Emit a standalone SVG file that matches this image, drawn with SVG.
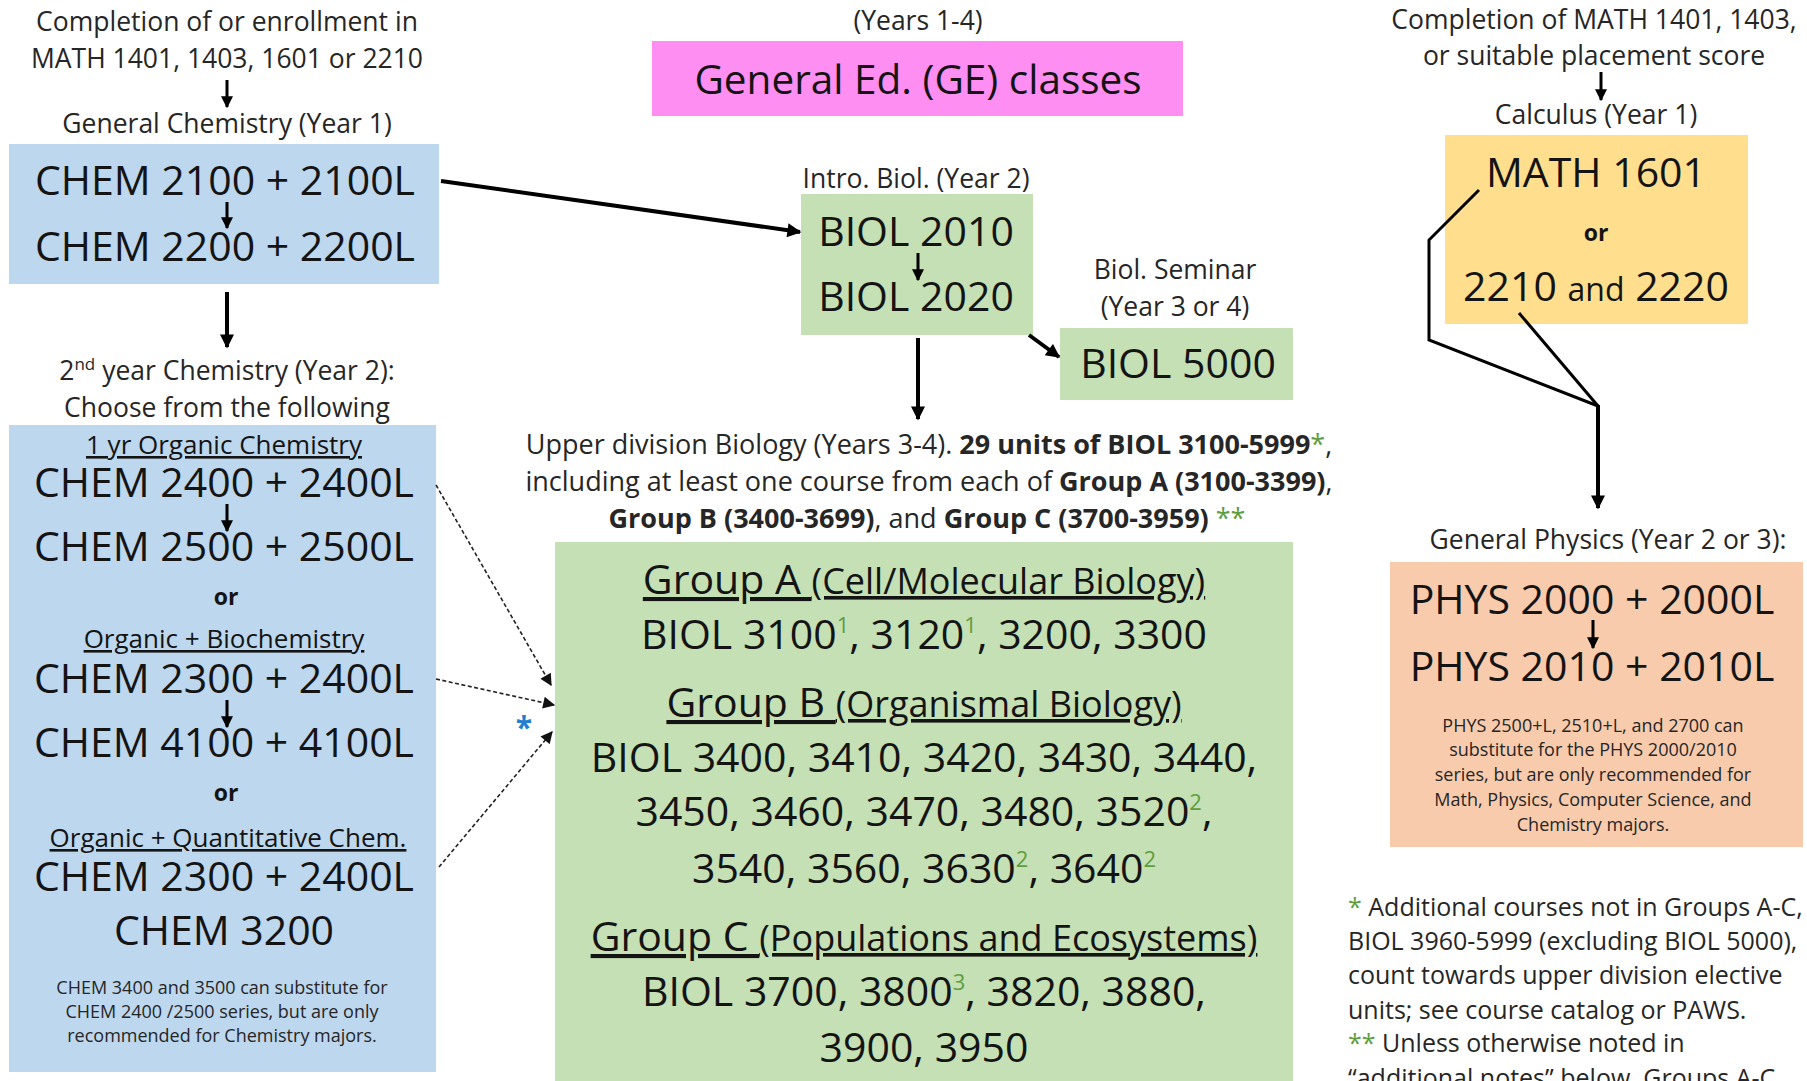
<svg xmlns="http://www.w3.org/2000/svg" width="1807" height="1081" viewBox="0 0 1807 1081">
<defs>
<style>
text{font-family:"Open Sans","Liberation Sans",sans-serif;fill:#141414}
.c{text-anchor:middle}
.big{font-size:41px}
.hd{font-size:26.5px;fill:#262626}
.up{font-size:27px;fill:#262626}
.sub{font-size:26px;text-decoration:underline}
.or{font-size:23px;font-weight:bold}
.note{font-size:18px;fill:#262626}
.fn{font-size:25px;fill:#262626}
.b{font-weight:bold}
.g{fill:#5e9e40}
.conn{stroke:#000;stroke-width:4;fill:none}
.thin{stroke:#000;stroke-width:3;fill:none}
.dash{stroke:#222;stroke-width:1.6;stroke-dasharray:4 2.5;fill:none}
</style>
<marker id="ah" viewBox="0 0 10 10" refX="9" refY="5" markerWidth="16" markerHeight="14" markerUnits="userSpaceOnUse" orient="auto"><path d="M0,0L10,5L0,10z" fill="#000"/></marker>
<marker id="as" viewBox="0 0 10 10" refX="9" refY="5" markerWidth="12" markerHeight="12" markerUnits="userSpaceOnUse" orient="auto"><path d="M0,0L10,5L0,10z" fill="#000"/></marker>
<marker id="ad" viewBox="0 0 10 10" refX="9" refY="5" markerWidth="14" markerHeight="12" markerUnits="userSpaceOnUse" orient="auto"><path d="M0,0L10,5L0,10z" fill="#111"/></marker>
</defs>
<rect width="1807" height="1081" fill="#fff"/>

<g id="chem-prereq">
<text class="hd c" x="227" y="31">Completion of or enrollment in</text>
<text class="hd c" x="227" y="68">MATH 1401, 1403, 1601 or 2210</text>
</g>

<g id="gen-chem">
<text class="hd c" x="227" y="133">General Chemistry (Year 1)</text>
<rect x="9" y="144" width="430" height="140" fill="#bdd7ee"/>
<text class="big c" x="225" y="195">CHEM 2100 + 2100L</text>
<text class="big c" x="225" y="261">CHEM 2200 + 2200L</text>
<line class="thin" x1="227" y1="202" x2="227" y2="228" marker-end="url(#as)"/>
</g>

<g id="chem-year2">
<text class="hd c" x="227" y="380">2<tspan font-size="17" dy="-10">nd</tspan><tspan dy="10"> year Chemistry (Year 2):</tspan></text>
<text class="hd c" x="227" y="417">Choose from the following</text>
<rect x="9" y="425" width="427" height="647" fill="#bdd7ee"/>
<text class="sub c" x="224" y="454">1 yr Organic Chemistry</text>
<text class="big c" x="224" y="497">CHEM 2400 + 2400L</text>
<line class="thin" x1="227" y1="504" x2="227" y2="531" marker-end="url(#as)"/>
<text class="big c" x="224" y="561">CHEM 2500 + 2500L</text>
<text class="or c" x="226" y="605">or</text>
<text class="sub c" x="224" y="648">Organic + Biochemistry</text>
<text class="big c" x="224" y="693">CHEM 2300 + 2400L</text>
<line class="thin" x1="227" y1="700" x2="227" y2="727" marker-end="url(#as)"/>
<text class="big c" x="224" y="757">CHEM 4100 + 4100L</text>
<text class="or c" x="226" y="801">or</text>
<text class="sub c" x="228" y="847">Organic + Quantitative Chem.</text>
<text class="big c" x="224" y="891">CHEM 2300 + 2400L</text>
<text class="big c" x="224" y="945">CHEM 3200</text>
<text class="note c" x="222" y="994">CHEM 3400 and 3500 can substitute for</text>
<text class="note c" x="222" y="1018">CHEM 2400 /2500 series, but are only</text>
<text class="note c" x="222" y="1042">recommended for Chemistry majors.</text>
</g>

<g id="ge">
<text class="hd c" x="918" y="30">(Years 1-4)</text>
<rect x="652" y="41" width="531" height="75" fill="#ff8ef3"/>
<text class="c" x="918" y="94" font-size="40.5">General Ed. (GE) classes</text>
</g>

<g id="intro-biol">
<text class="hd c" x="916" y="188" font-size="25">Intro. Biol. (Year 2)</text>
<rect x="801" y="194" width="232" height="141" fill="#c5e0b4"/>
<text class="big c" x="916" y="246">BIOL 2010</text>
<line class="thin" x1="918" y1="253" x2="918" y2="280" marker-end="url(#as)"/>
<text class="big c" x="916" y="311">BIOL 2020</text>
</g>

<g id="seminar">
<text class="hd c" x="1175" y="279" font-size="25">Biol. Seminar</text>
<text class="hd c" x="1175" y="316" font-size="25">(Year 3 or 4)</text>
<rect x="1060" y="328" width="233" height="72" fill="#c5e0b4"/>
<text class="big c" x="1178" y="378">BIOL 5000</text>
</g>

<g id="upper-div">
<text class="up c" x="929" y="454">Upper division Biology (Years 3-4). <tspan class="b">29 units of BIOL 3100-5999</tspan><tspan class="g">*</tspan>,</text>
<text class="up c" x="929" y="491">including at least one course from each of <tspan class="b">Group A (3100-3399)</tspan>,</text>
<text class="up c" x="927" y="528"><tspan class="b">Group B (3400-3699)</tspan>, and <tspan class="b">Group C (3700-3959)</tspan> <tspan class="g">**</tspan></text>
<rect x="555" y="542" width="738" height="545" fill="#c5e0b4"/>
<text class="c" x="924" y="594" font-size="36" text-decoration="underline"><tspan font-size="41">Group A </tspan>(Cell/Molecular  Biology)</text>
<text class="big c" x="924" y="649">BIOL 3100<tspan class="g" font-size="22" dy="-16">1</tspan><tspan dy="16">, 3120</tspan><tspan class="g" font-size="22" dy="-16">1</tspan><tspan dy="16">, 3200, 3300</tspan></text>
<text class="c" x="924" y="717" font-size="36" text-decoration="underline"><tspan font-size="41">Group B </tspan>(Organismal Biology)</text>
<text class="big c" x="924" y="772">BIOL 3400, 3410, 3420, 3430, 3440,</text>
<text class="big c" x="924" y="826">3450, 3460, 3470, 3480, 3520<tspan class="g" font-size="22" dy="-16">2</tspan><tspan dy="16">,</tspan></text>
<text class="big c" x="924" y="883">3540, 3560, 3630<tspan class="g" font-size="22" dy="-16">2</tspan><tspan dy="16">, 3640</tspan><tspan class="g" font-size="22" dy="-16">2</tspan></text>
<text class="c" x="924" y="951" font-size="36" text-decoration="underline"><tspan font-size="41">Group C </tspan>(Populations and Ecosystems)</text>
<text class="big c" x="924" y="1006">BIOL 3700, 3800<tspan class="g" font-size="22" dy="-16">3</tspan><tspan dy="16">, 3820, 3880,</tspan></text>
<text class="big c" x="924" y="1062">3900, 3950</text>
</g>

<g id="math-prereq">
<text class="hd c" x="1594" y="29">Completion of MATH 1401, 1403,</text>
<text class="hd c" x="1594" y="65">or suitable placement score</text>
</g>

<g id="calculus">
<text class="hd c" x="1596" y="124">Calculus (Year 1)</text>
<rect x="1445" y="135" width="303" height="189" fill="#ffdf8e"/>
<text class="big c" x="1596" y="187">MATH 1601</text>
<text class="or c" x="1596" y="241">or</text>
<text class="big c" x="1596" y="301">2210 <tspan font-size="32">and</tspan> 2220</text>
</g>

<g id="physics">
<text class="hd c" x="1608" y="549">General Physics (Year 2 or 3):</text>
<rect x="1390" y="562" width="413" height="285" fill="#f8cbad"/>
<text class="big c" x="1592" y="614">PHYS 2000 + 2000L</text>
<line class="thin" x1="1593" y1="620" x2="1593" y2="648" marker-end="url(#as)"/>
<text class="big c" x="1592" y="681">PHYS 2010 + 2010L</text>
<text class="note c" x="1593" y="732">PHYS 2500+L, 2510+L, and 2700 can</text>
<text class="note c" x="1593" y="756">substitute for the PHYS 2000/2010</text>
<text class="note c" x="1593" y="781">series, but are only recommended for</text>
<text class="note c" x="1593" y="806">Math, Physics, Computer Science, and</text>
<text class="note c" x="1593" y="831">Chemistry majors.</text>
</g>

<g id="footnotes">
<text class="fn" x="1348" y="916"><tspan class="g">*</tspan> Additional courses not in Groups A-C,</text>
<text class="fn" x="1348" y="950">BIOL 3960-5999  (excluding BIOL 5000),</text>
<text class="fn" x="1348" y="984">count towards upper division elective</text>
<text class="fn" x="1348" y="1019">units; see course catalog or PAWS.</text>
<text class="fn" x="1348" y="1052"><tspan class="g">**</tspan> Unless otherwise noted in</text>
<text class="fn" x="1348" y="1087">“additional notes” below, Groups A-C</text>
</g>

<g id="connectors">
<line class="thin" x1="227" y1="80" x2="227" y2="107" marker-end="url(#as)"/>
<line class="conn" x1="227" y1="292" x2="227" y2="347" marker-end="url(#ah)"/>
<line class="conn" x1="441" y1="181" x2="800" y2="232" marker-end="url(#ah)"/>
<line class="conn" x1="1029" y1="335" x2="1059" y2="357" marker-end="url(#ah)"/>
<line class="conn" x1="918" y1="338" x2="918" y2="419" marker-end="url(#ah)"/>
<line class="thin" x1="1601" y1="72" x2="1601" y2="100" marker-end="url(#as)"/>
<polyline class="thin" points="1479,190 1429,240 1429,340 1598,406"/>
<line class="thin" x1="1519" y1="313" x2="1598" y2="406"/>
<line class="conn" x1="1598" y1="405" x2="1598" y2="508" marker-end="url(#ah)"/>
<line class="dash" x1="436" y1="485" x2="551" y2="685" marker-end="url(#ad)"/>
<line class="dash" x1="436" y1="679" x2="554" y2="705" marker-end="url(#ad)"/>
<line class="dash" x1="439" y1="867" x2="552" y2="732" marker-end="url(#ad)"/>
<text x="524" y="738" font-size="30" font-weight="bold" style="fill:#1f7fd0" text-anchor="middle">*</text>
</g>
</svg>
